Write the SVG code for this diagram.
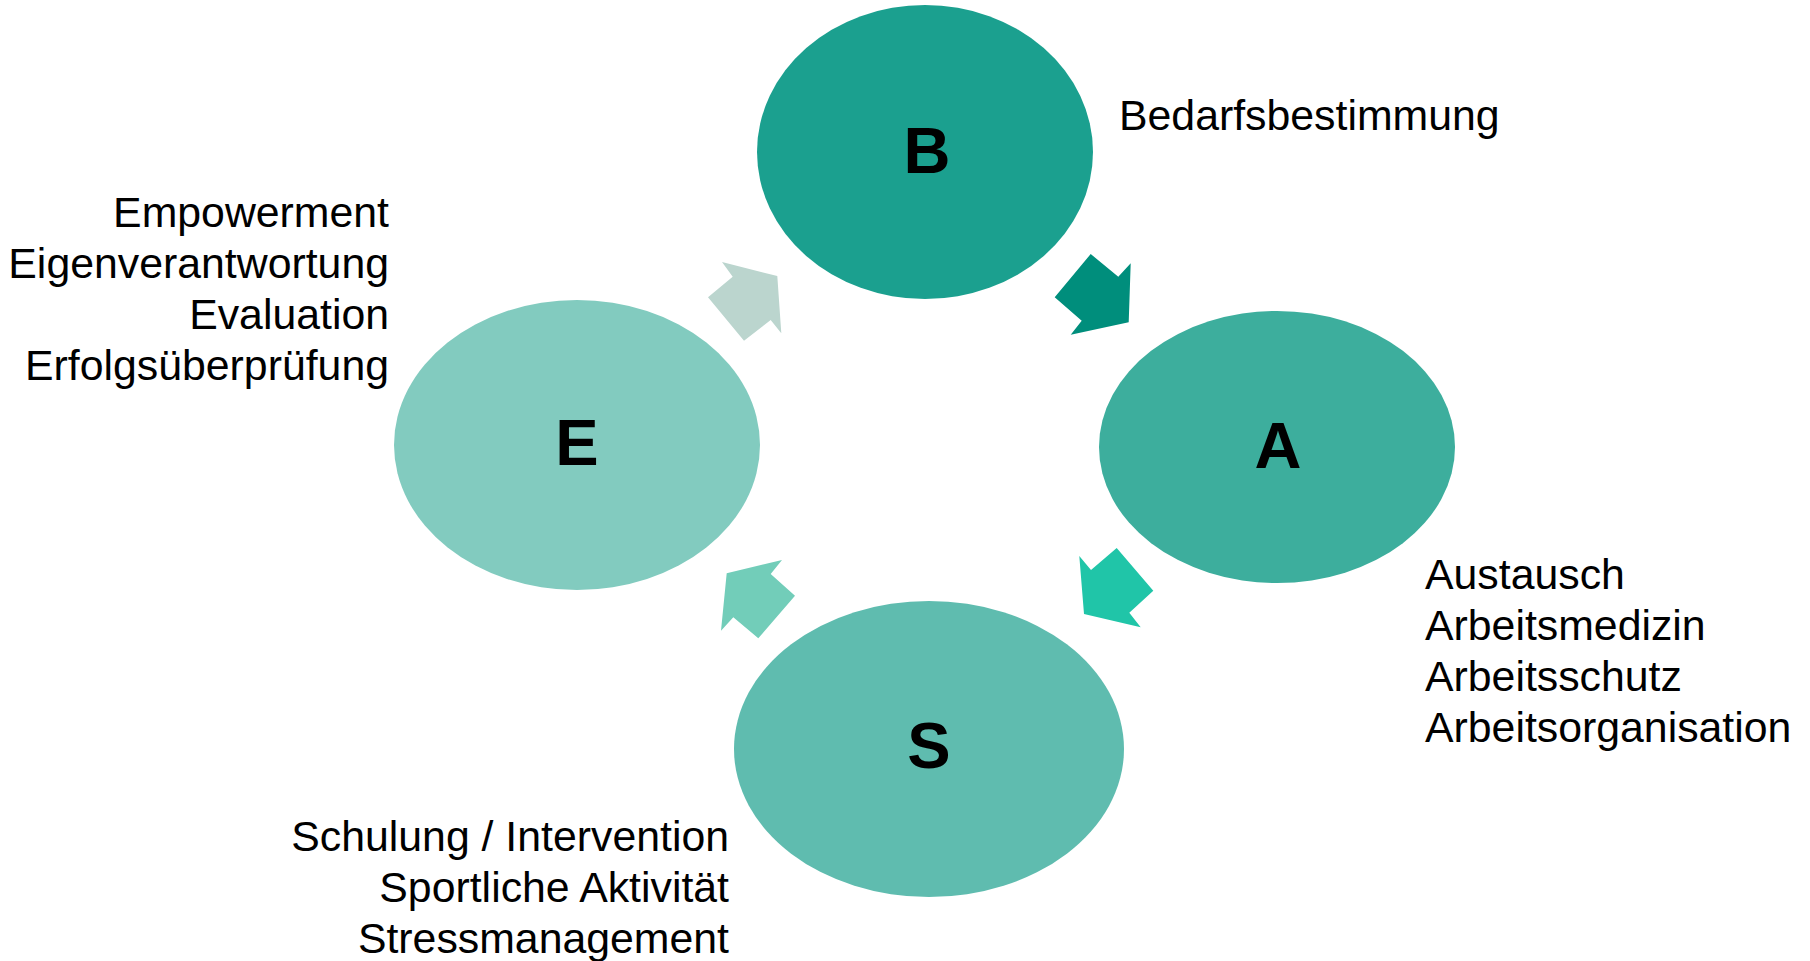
<svg xmlns="http://www.w3.org/2000/svg" width="1810" height="961" viewBox="0 0 1810 961">
<style>
.lbl{font-family:"Liberation Sans",Arial,sans-serif;font-size:42.8px;fill:#000}
.big{font-family:"Liberation Sans",Arial,sans-serif;font-size:65px;font-weight:bold;fill:#000;text-anchor:middle}
.r{text-anchor:end}
</style>
<rect width="1810" height="961" fill="#fff"/>
<g id="connectors">
<polygon points="1090.7,254 1118.3,276.7 1130.7,263.3 1128.7,322.3 1070.7,334.7 1081.7,320.7 1054.7,297.3" fill="#008E7C"/>
<polygon points="1079.3,556 1091,570 1116.7,548 1153.3,590.7 1129.3,612.7 1140.7,627.3 1084,614" fill="#20C5A8"/>
<polygon points="782,560 770.7,574 795,595.7 758.3,638.3 733.3,617.3 721,630.7 726.7,573.3" fill="#72CDB9"/>
<polygon points="722,262 777.3,276 781.3,333.3 770.7,320 744,340.7 708,297.3 732.7,276.7" fill="#BBD5CE"/>
</g>
<g id="node-B">
<ellipse cx="925" cy="152" rx="168" ry="147" fill="#1BA08F"/>
<text class="big" x="927" y="173">B</text>
<text class="lbl" x="1119" y="130">Bedarfsbestimmung</text>
</g>
<g id="node-A">
<ellipse cx="1277" cy="447" rx="178" ry="136" fill="#3DAE9D"/>
<text class="big" x="1278" y="468">A</text>
<text class="lbl" x="1425" y="589">Austausch</text>
<text class="lbl" x="1425" y="640">Arbeitsmedizin</text>
<text class="lbl" x="1425" y="691">Arbeitsschutz</text>
<text class="lbl" x="1425" y="742">Arbeitsorganisation</text>
</g>
<g id="node-S">
<ellipse cx="929" cy="749" rx="195" ry="148" fill="#5FBCAF"/>
<text class="big" x="929" y="768">S</text>
<text class="lbl r" x="729" y="851">Schulung / Intervention</text>
<text class="lbl r" x="729" y="902">Sportliche Aktivität</text>
<text class="lbl r" x="729" y="953">Stressmanagement</text>
</g>
<g id="node-E">
<ellipse cx="577" cy="445" rx="183" ry="145" fill="#82CBBF"/>
<text class="big" x="577" y="465">E</text>
<text class="lbl r" x="389" y="227">Empowerment</text>
<text class="lbl r" x="389" y="278">Eigenverantwortung</text>
<text class="lbl r" x="389" y="329">Evaluation</text>
<text class="lbl r" x="389" y="380">Erfolgsüberprüfung</text>
</g>
</svg>
